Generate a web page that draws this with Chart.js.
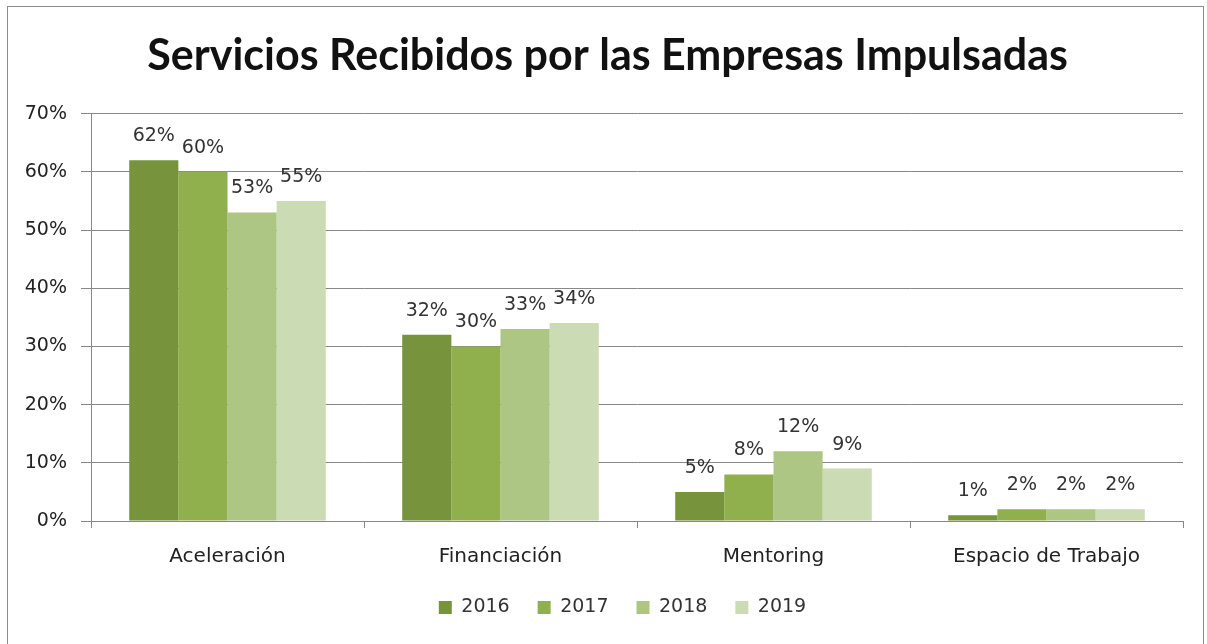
<!DOCTYPE html>
<html>
<head>
<meta charset="utf-8">
<script src="https://cdn.jsdelivr.net/npm/chart.js@4"></script>
<style>
html,body{margin:0;padding:0;background:#fff;}
#wrap{position:relative;width:1207px;height:644px;}
#frame{position:absolute;left:7px;top:6px;width:1197px;height:660px;border:1px solid #8c8c8c;box-sizing:border-box;pointer-events:none;}
</style>
</head>
<body>
<div id="wrap">
<canvas id="c" width="1207" height="644"></canvas>
<div id="frame"></div>
</div>
<script>
const categorias=['Aceleración','Financiación','Mentoring','Espacio de Trabajo'];
const anios=['2016','2017','2018','2019'];
const v2016=[62,32,5,1];
const v2017=[60,30,8,2];
const v2018=[53,33,12,2];
const v2019=[55,34,9,2];
const colores=['#77933c','#8fb04c','#adc683','#cbdbb4'];
const titulo='Servicios Recibidos por las Empresas Impulsadas';

// etiquetas de valor encima de cada barra
const etiquetas={id:'etiquetas',
  afterLayout(chart){
    // centrar titulo y leyenda un poco mas a la derecha, como en el original
    if(chart.titleBlock)chart.titleBlock.left+=12;
    if(chart.legend)chart.legend.left+=42;
  },
  afterDatasetsDraw(chart){
    const ctx=chart.ctx;ctx.save();
    ctx.font='19px "DejaVu Sans"';ctx.fillStyle='#333';ctx.textAlign='center';ctx.textBaseline='middle';
    chart.data.datasets.forEach((ds,i)=>{
      chart.getDatasetMeta(i).data.forEach((bar,j)=>{ctx.fillText(ds.data[j]+'%',bar.x,bar.y-24);});
    });
    ctx.restore();
  }};

const series=[v2016,v2017,v2018,v2019];
new Chart(document.getElementById('c'),{
  type:'bar',
  data:{labels:categorias,datasets:anios.map((a,i)=>({label:a,data:series[i],backgroundColor:colores[i],borderWidth:0,categoryPercentage:0.72,barPercentage:1.0}))},
  options:{
    responsive:false,animation:false,
    layout:{padding:{left:20,right:24,top:0,bottom:17}},
    plugins:{
      title:{display:true,text:titulo,color:'#111',font:{family:'Lato',size:43,weight:'bold',lineHeight:1.2},padding:{top:30,bottom:32}},
      legend:{position:'bottom',labels:{font:{family:'DejaVu Sans',size:19},color:'#333',boxWidth:13,boxHeight:13,padding:28}},
      tooltip:{enabled:false}
    },
    scales:{
      x:{
        grid:{display:true,drawOnChartArea:false,drawTicks:true,tickLength:7,color:'#888',offset:true},
        border:{color:'#888'},
        ticks:{font:{family:'DejaVu Sans',size:20},color:'#222',padding:17},
        afterFit(s){s.height=49;}
      },
      y:{
        min:0,max:70,
        grid:{color:'#888',tickLength:10},
        border:{color:'#888'},
        ticks:{stepSize:10,font:{family:'DejaVu Sans',size:19},color:'#222',padding:14,callback:v=>v+'%'},
        afterFit(s){s.width=71;}
      }
    }
  },
  plugins:[etiquetas]
});
</script>
</body>
</html>
